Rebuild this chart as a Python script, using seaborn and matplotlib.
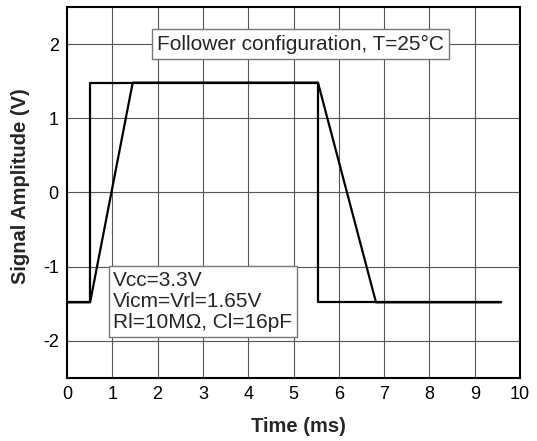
import matplotlib
matplotlib.use("Agg")
import matplotlib.pyplot as plt
import seaborn as sns
import pandas as pd

# Data
input_time = [0.0, 0.51, 0.51, 5.54, 5.54, 9.58]
input_volt = [-1.48, -1.48, 1.48, 1.48, -1.48, -1.48]
output_time = [0.0, 0.51, 1.45, 5.54, 6.82, 9.58]
output_volt = [-1.48, -1.48, 1.48, 1.48, -1.48, -1.48]

x_ticks = [0, 1, 2, 3, 4, 5, 6, 7, 8, 9, 10]
y_ticks = [-2, -1, 0, 1, 2]

title_text = "Follower configuration, T=25°C"
cond_text = "Vcc=3.3V\nVicm=Vrl=1.65V\nRl=10MΩ, Cl=16pF"

sns.set_theme(style="white")
plt.rcParams['font.family'] = ['Liberation Sans', 'DejaVu Sans']

df = pd.concat([
    pd.DataFrame({"t": input_time, "v": input_volt, "s": "in"}),
    pd.DataFrame({"t": output_time, "v": output_volt, "s": "out"}),
])

fig = plt.figure(figsize=(5.37, 4.41), dpi=100)
ax = fig.add_axes([0.1248, 0.1429, 0.8436, 0.8413])

sns.lineplot(data=df, x="t", y="v", units="s", estimator=None, sort=False,
             color="black", linewidth=1.6, ax=ax, legend=False)

ax.set_xlim(0, 10)
ax.set_ylim(-2.5, 2.5)
ax.set_xticks(x_ticks)
ax.set_yticks(y_ticks)
ax.set_xticklabels([str(v) for v in x_ticks], fontsize=13)
ax.set_yticklabels([str(v) for v in y_ticks], fontsize=13)
ax.tick_params(direction="in", length=4, width=1, colors="black", pad=6)
ax.grid(True, color="#555555", linewidth=0.8)
ax.set_axisbelow(True)
for sp in ax.spines.values():
    sp.set_color("black")
    sp.set_linewidth(1.5)

ax.set_xlabel("Time (ms)", fontsize=14.5, fontweight="bold")
ax.xaxis.set_label_coords(0.51, -0.105)
ax.set_ylabel("Signal Amplitude (V)", fontsize=14.5, fontweight="bold")
ax.yaxis.set_label_coords(-0.082, 0.517)

ax.text(5.15, 2.0, title_text, fontsize=15, ha="center", va="center",
        bbox=dict(boxstyle="square,pad=0.25", facecolor="white", edgecolor="#777777", linewidth=1))
ax.text(1.02, -1.47, cond_text, fontsize=15, ha="left", va="center", linespacing=1.15,
        bbox=dict(boxstyle="square,pad=0.22", facecolor="white", edgecolor="#777777", linewidth=1))

fig.savefig("out.png", dpi=100)
